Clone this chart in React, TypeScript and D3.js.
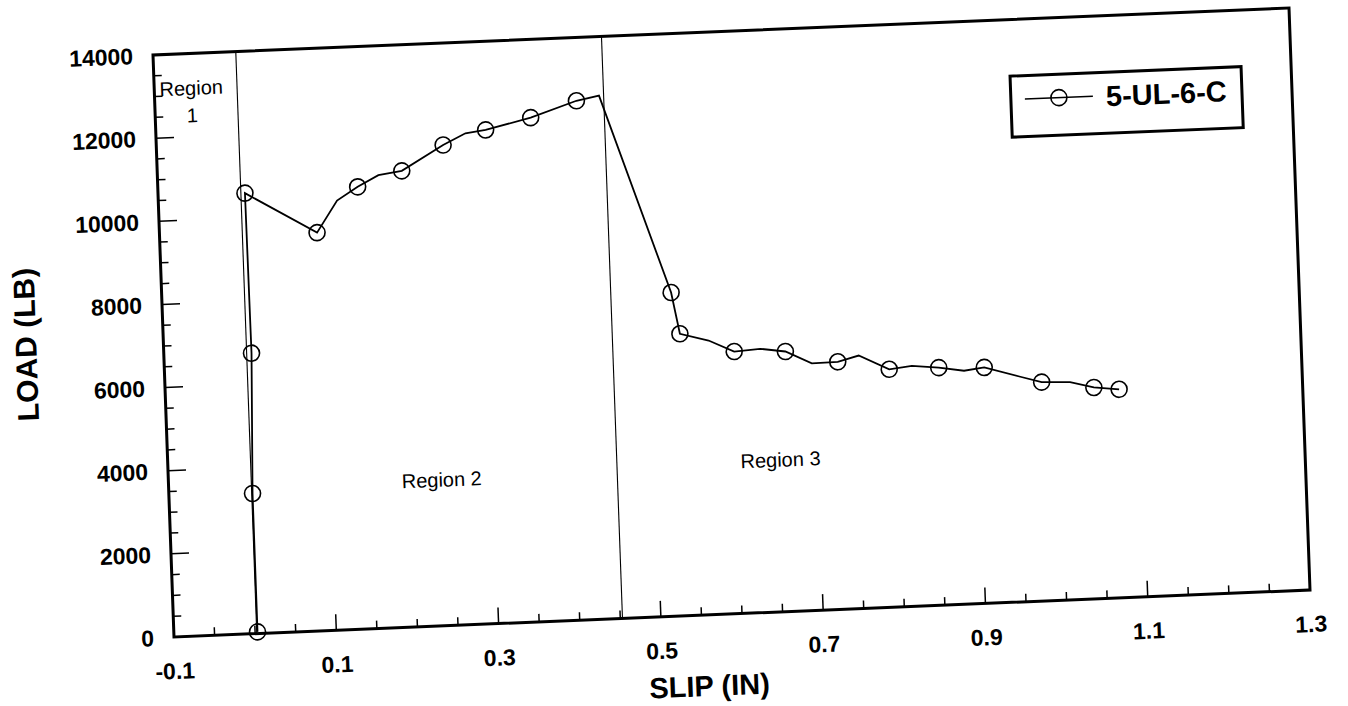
import React from 'react';
import * as d3 from 'd3';

// ---- data ----
const slip = [0.003, 0.003, 0.008, 0.007, 0.094, 0.120, 0.146, 0.172, 0.201, 0.253, 0.281, 0.306, 0.362, 0.419, 0.447,
  0.527, 0.536, 0.571, 0.602, 0.634, 0.665, 0.697, 0.729, 0.755, 0.792, 0.820, 0.853, 0.884, 0.909, 0.953, 0.979, 1.014, 1.043, 1.074];
const load = [40, 3370, 6740, 10590, 9570, 10320, 10630, 10890, 10970, 11550, 11810, 11870, 12120, 12480, 12580,
  7780, 6780, 6590, 6300, 6340, 6250, 5940, 5950, 6080, 5720, 5780, 5710, 5610, 5670, 5410, 5260, 5230, 5080, 5010];
const marked = [1, 1, 1, 1, 1, 0, 1, 0, 1, 1, 0, 1, 1, 1, 0,
  1, 1, 0, 1, 0, 1, 0, 1, 0, 1, 0, 1, 0, 1, 0, 1, 0, 1, 1];
const xTickLabels = ['-0.1', '0.1', '0.3', '0.5', '0.7', '0.9', '1.1', '1.3'];
const yTickLabels = ['0', '2000', '4000', '6000', '8000', '10000', '12000', '14000'];
const regionBoundaries = [0.002, 0.4527];
const seriesName = '5-UL-6-C';
const xTitle = 'SLIP (IN)';
const yTitle = 'LOAD (LB)';

const W = 1136;
const H = 582;
const FONT = '"Liberation Sans", Arial, Helvetica, sans-serif';

export default function App() {
  const x = d3.scaleLinear().domain([-0.1, 1.3]).range([0, W]);
  const y = d3.scaleLinear().domain([0, 14000]).range([H, 0]);
  const minorX = d3.range(0, 29).map((i) => -0.1 + i * 0.05);
  const majorX = xTickLabels.map(Number);
  const minorY = d3.range(0, 29).map((i) => i * 500);
  const majorY = yTickLabels.map(Number);
  const pts = slip.map((s, i) => ({ s, l: load[i], m: marked[i] }));
  const line = d3.line<any>().x((d) => x(d.s)).y((d) => y(d.l));

  return (
    <svg width={1348} height={706} style={{ position: 'absolute', left: 0, top: 0, background: '#fff' }}
      fontFamily={FONT}>
      <rect width={1348} height={706} fill="#fff" />
      <g transform={`matrix(1,-0.04137,0.03608,1,174,637) translate(0,${-H})`}>
        {/* region dividers */}
        {regionBoundaries.map((b, i) => (
          <line key={'rb' + i} x1={x(b)} x2={x(b)} y1={0} y2={H} stroke="#000" strokeWidth={1.1} />
        ))}
        {/* ticks */}
        {minorX.map((v, i) => {
          const isMajor = majorX.some((m) => Math.abs(m - v) < 1e-6);
          return <line key={'xt' + i} x1={x(v)} x2={x(v)} y1={H} y2={H - (isMajor ? 16 : 8)} stroke="#000" strokeWidth={1.5} />;
        })}
        {minorY.map((v, i) => {
          const isMajor = majorY.some((m) => Math.abs(m - v) < 1e-6);
          return <line key={'yt' + i} x1={0} x2={isMajor ? 18 : 8} y1={y(v)} y2={y(v)} stroke="#000" strokeWidth={1.5} />;
        })}
        {/* frame */}
        <rect x={0} y={0} width={W} height={H} fill="none" stroke="#000" strokeWidth={3} />
        {/* tick labels */}
        {xTickLabels.map((t, i) => (
          <text key={'xl' + i} x={x(majorX[i])} y={H + 42} textAnchor="middle" fontSize={23} fontWeight="bold">{t}</text>
        ))}
        {yTickLabels.map((t, i) => (
          <text key={'yl' + i} x={-20} y={y(majorY[i])} dy="0.36em" textAnchor="end" fontSize={23} fontWeight="bold">{t}</text>
        ))}
        {/* axis titles */}
        <text x={533} y={H + 81} textAnchor="middle" fontSize={29} fontWeight="bold">{xTitle}</text>
        <text transform={`translate(-127,284) rotate(-90)`} textAnchor="middle" fontSize={30} fontWeight="bold">{yTitle}</text>
        {/* region labels */}
        <text x={37} y={41.5} textAnchor="middle" fontSize={20}>Region</text>
        <text x={37} y={68.7} textAnchor="middle" fontSize={20}>1</text>
        <text x={273} y={443} textAnchor="middle" fontSize={20}>Region 2</text>
        <text x={612} y={437} textAnchor="middle" fontSize={20}>Region 3</text>
        {/* series */}
        <path d={line(pts) || ''} fill="none" stroke="#000" strokeWidth={1.8} strokeLinejoin="miter" />
        {pts.filter((p) => p.m).map((p, i) => (
          <circle key={'c' + i} cx={x(p.s)} cy={y(p.l)} r={8} fill="none" stroke="#000" strokeWidth={1.6} />
        ))}
        {/* legend */}
        <rect x={855} y={56.5} width={231} height={61} fill="#fff" stroke="#000" strokeWidth={3} />
        <line x1={869} x2={937} y1={80} y2={80} stroke="#000" strokeWidth={1.6} />
        <circle cx={903} cy={80} r={8} fill="none" stroke="#000" strokeWidth={1.6} />
        <text x={950} y={90.5} fontSize={29} fontWeight="bold">{seriesName}</text>
      </g>
    </svg>
  );
}
